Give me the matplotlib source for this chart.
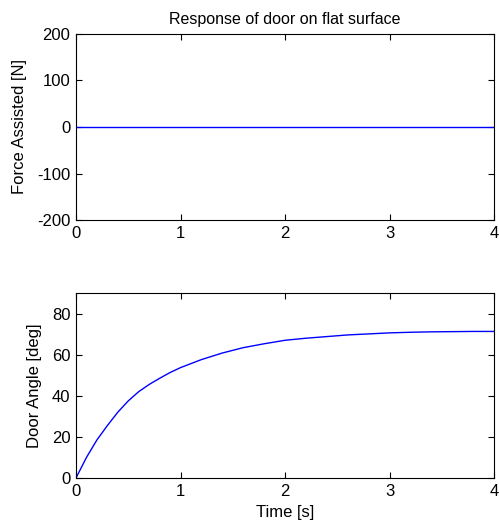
import numpy as np
import matplotlib.pyplot as plt

plt.rcParams['font.family'] = ['Liberation Sans', 'DejaVu Sans']
plt.rcParams['axes.unicode_minus'] = False

# data
time = [0, 0.1, 0.2, 0.3, 0.4, 0.5, 0.6, 0.7, 0.8, 0.9, 1.0, 1.2, 1.4, 1.6,
        1.8, 2.0, 2.2, 2.4, 2.6, 2.8, 3.0, 3.2, 3.4, 3.6, 3.8, 4.0]
angle = [0, 10, 18.5, 25.5, 32, 37.5, 42, 45.5, 48.5, 51.3, 53.7, 57.6, 60.8,
         63.4, 65.3, 67, 68, 68.8, 69.6, 70.1, 70.6, 70.9, 71.1, 71.2, 71.3, 71.3]
force = [0] * len(time)

fig = plt.figure(figsize=(4.99, 5.27), dpi=100)
ax1 = fig.add_axes([76 / 499, 1 - 220 / 527, 418 / 499, 186 / 527])
ax2 = fig.add_axes([76 / 499, 1 - 478 / 527, 418 / 499, 185 / 527])

ax1.plot(time, force, color='#0000ff', lw=1)
ax1.set_xlim(0, 4)
ax1.set_ylim(-200, 200)
ax1.set_yticks([-200, -100, 0, 100, 200])
ax1.set_ylabel('Force Assisted [N]', fontsize=12, labelpad=7)
ax1.set_title('Response of door on flat surface', fontsize=11.5, pad=7)

ax2.plot(time, angle, color='#0000ff', lw=1)
ax2.set_xlim(0, 4)
ax2.set_ylim(0, 90)
ax2.set_yticks([0, 20, 40, 60, 80])
ax2.set_ylabel('Door Angle [deg]', fontsize=12, labelpad=7)
ax2.set_xlabel('Time [s]', fontsize=12, labelpad=5)

for ax in (ax1, ax2):
    ax.set_xticks([0, 1, 2, 3, 4])
    ax.tick_params(direction='in', top=True, right=True, labelsize=12, length=4, width=0.8, pad=4)
    for s in ax.spines.values():
        s.set_linewidth(0.8)

fig.savefig('out.png', dpi=100)
